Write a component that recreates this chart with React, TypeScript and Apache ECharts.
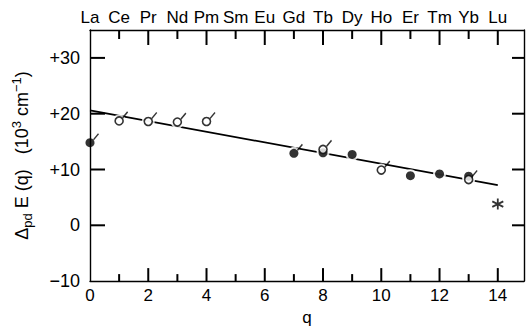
import React, { useEffect, useRef } from "react";
import * as echarts from "echarts";

// Lanthanide series, one per q = 0 … 14
const elements = ["La", "Ce", "Pr", "Nd", "Pm", "Sm", "Eu", "Gd", "Tb", "Dy", "Ho", "Er", "Tm", "Yb", "Lu"];

// Filled circles
const filledQ = [0, 7, 8, 9, 11, 12, 13];
const filledE = [14.8, 12.9, 13.0, 12.7, 8.9, 9.2, 8.8];

// Open circles
const openQ = [1, 2, 3, 4, 8, 10, 13];
const openE = [18.7, 18.6, 18.5, 18.6, 13.6, 9.9, 8.2];

// Points carrying a short slash mark
const slashQ = [0, 7, 1, 2, 3, 4, 8, 10, 13];
const slashE = [14.8, 12.9, 18.7, 18.6, 18.5, 18.6, 13.6, 9.9, 8.2];

// Lu, starred
const starQ = [14];
const starE = [3.8];

// Fitted straight line
const fitQ = [0, 14];
const fitE = [20.6, 7.2];

// Tick positions on the frame
const qMajorTicks = [2, 4, 6, 8, 10, 12, 14];
const qMinorTicks = [1, 3, 5, 7, 9, 11, 13];
const eTicks = [0, 10, 20, 30];

const Q_MIN = 0;
const Q_MAX = 14.9;
const E_MIN = -10;
const E_MAX = 35;

const FONT = "Liberation Sans";
const INK = "#000";

const zip = (xs: number[], ys: number[]) => xs.map((x, i) => [x, ys[i]]);

export default function App() {
  const ref = useRef<HTMLDivElement>(null);

  useEffect(() => {
    if (!ref.current) return;
    const chart = echarts.init(ref.current, null, { renderer: "svg" });

    const isInt = (v: number) => Math.abs(v - Math.round(v)) < 1e-6;
    const axisLine = () => ({ show: true, onZero: false, lineStyle: { color: INK, width: 1.4 } });

    // inward frame marks: [q, E, dx(px), dy(px)]
    const marks: number[][] = [];
    qMajorTicks.forEach((q) => {
      marks.push([q, E_MIN, 0, -13]);
      marks.push([q, E_MAX, 0, 15]);
    });
    qMinorTicks.forEach((q) => {
      marks.push([q, E_MIN, 0, -7]);
      marks.push([q, E_MAX, 0, 9]);
    });
    eTicks.forEach((e) => {
      marks.push([Q_MIN, e, 15, 0]);
      marks.push([Q_MAX, e, -12, 0]);
    });

    chart.setOption({
      animation: false,
      grid: { left: 90, right: 2, top: 30, bottom: 44 },
      xAxis: [
        {
          type: "value",
          position: "bottom",
          min: Q_MIN,
          max: Q_MAX,
          interval: 2,
          axisLine: axisLine(),
          axisTick: { show: false },
          splitLine: { show: false },
          axisLabel: {
            fontSize: 17,
            color: INK,
            margin: 6,
            fontFamily: FONT,
            formatter: (v: number) => (isInt(v) && v <= 14 ? String(v) : ""),
          },
          name: "q",
          nameLocation: "middle",
          nameGap: 25,
          nameTextStyle: { fontSize: 17, color: INK, fontFamily: FONT },
        },
        {
          type: "value",
          position: "top",
          min: Q_MIN,
          max: Q_MAX,
          interval: 1,
          axisLine: axisLine(),
          axisTick: { show: false },
          splitLine: { show: false },
          axisLabel: {
            fontSize: 17,
            color: INK,
            margin: 4,
            fontFamily: FONT,
            formatter: (v: number) => (isInt(v) && elements[Math.round(v)] ? elements[Math.round(v)] : ""),
          },
        },
      ],
      yAxis: [
        {
          type: "value",
          position: "left",
          min: E_MIN,
          max: E_MAX,
          interval: 10,
          axisLine: axisLine(),
          axisTick: { show: false },
          splitLine: { show: false },
          axisLabel: {
            fontSize: 18,
            color: INK,
            margin: 10,
            fontFamily: FONT,
            formatter: (v: number) => (v > 30 ? "" : v > 0 ? "+" + v : v < 0 ? "\u2212" + Math.abs(v) : "0"),
          },
          name: "{t|\u0394}{s|pd}{t| E (q)   (10}{p|3}{t| cm}{p|\u22121}{t|)}",
          nameLocation: "middle",
          nameGap: 56,
          nameTextStyle: {
            color: INK,
            fontFamily: FONT,
            rich: {
              t: { fontSize: 18, lineHeight: 24, fontFamily: FONT, color: INK },
              s: { fontSize: 13, lineHeight: 12, verticalAlign: "bottom", fontFamily: FONT, color: INK },
              p: { fontSize: 13, lineHeight: 12, verticalAlign: "top", fontFamily: FONT, color: INK },
            },
          },
        },
        {
          type: "value",
          position: "right",
          min: E_MIN,
          max: E_MAX,
          interval: 10,
          axisLine: axisLine(),
          axisTick: { show: false },
          splitLine: { show: false },
          axisLabel: { show: false },
        },
      ],
      series: [
        {
          // tick marks pointing into the frame
          type: "custom",
          data: marks,
          dimensions: ["q", "e", "dx", "dy"],
          encode: { x: 0, y: 1 },
          clip: false,
          silent: true,
          z: 1,
          renderItem: (_params: any, api: any) => {
            const p = api.coord([api.value(0), api.value(1)]);
            return {
              type: "line",
              shape: { x1: p[0], y1: p[1], x2: p[0] + api.value(2), y2: p[1] + api.value(3) },
              style: { stroke: INK, lineWidth: 2 },
            };
          },
        },
        {
          type: "line",
          data: zip(fitQ, fitE),
          symbol: "none",
          lineStyle: { color: INK, width: 1.7 },
          z: 2,
          silent: true,
        },
        {
          // white halos that break the fitted line around each marker
          type: "scatter",
          data: zip(filledQ, filledE).slice(1).concat(zip(openQ, openE)),
          symbol: "circle",
          symbolSize: 13,
          itemStyle: { color: "#fff" },
          z: 3,
          silent: true,
        },
        {
          type: "scatter",
          data: zip(filledQ, filledE),
          symbol: "circle",
          symbolSize: 9,
          itemStyle: { color: INK },
          z: 5,
        },
        {
          type: "scatter",
          data: zip(openQ, openE),
          symbol: "circle",
          symbolSize: 8,
          itemStyle: { color: "#fff", borderColor: INK, borderWidth: 1.6 },
          z: 6,
        },
        {
          type: "scatter",
          data: zip(slashQ, slashE),
          symbol: "path://M0,10 L10,0",
          symbolSize: [5, 6],
          symbolOffset: [6, -6],
          itemStyle: { color: "none", borderColor: INK, borderWidth: 1.5 },
          z: 7,
          silent: true,
        },
        {
          type: "scatter",
          data: zip(starQ, starE),
          symbol: "path://M5,0 L5,10 M0.67,2.5 L9.33,7.5 M0.67,7.5 L9.33,2.5",
          symbolSize: [11, 11],
          itemStyle: { color: "none", borderColor: INK, borderWidth: 1.8 },
          z: 7,
        },
      ],
    });

    return () => chart.dispose();
  }, []);

  return (
    <div
      ref={ref}
      style={{ position: "fixed", left: 0, top: 0, width: 527, height: 331, background: "#fff" }}
    />
  );
}
